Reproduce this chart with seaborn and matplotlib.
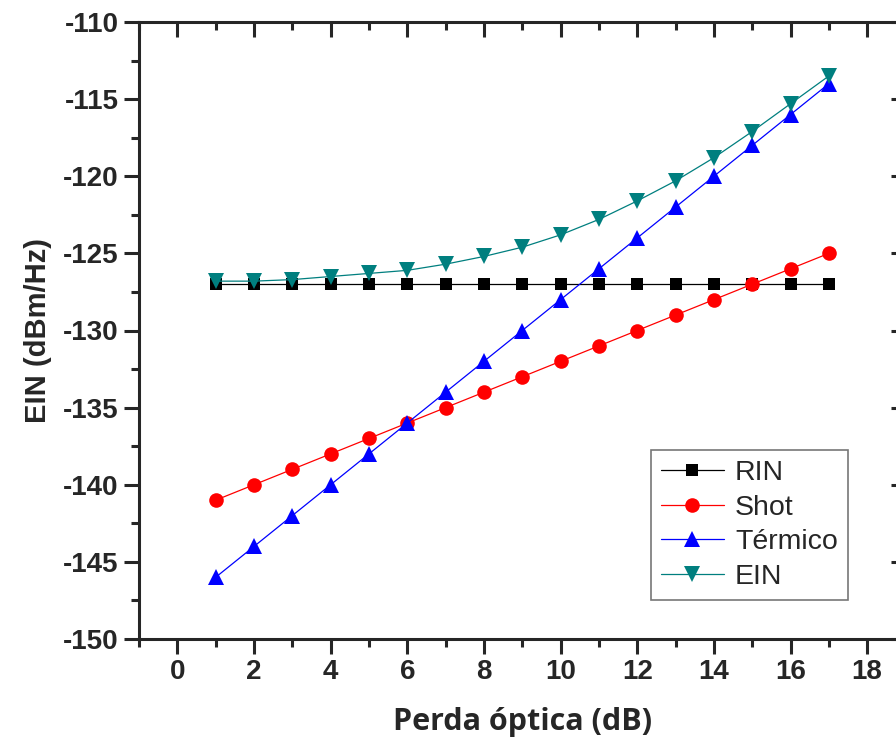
import numpy as np
import pandas as pd
import matplotlib
matplotlib.use("Agg")
import matplotlib.pyplot as plt
from matplotlib.ticker import MultipleLocator
import seaborn as sns

sns.set_theme(style="ticks")
plt.rcParams['font.family'] = ['Liberation Sans', 'DejaVu Sans']
plt.rcParams['axes.unicode_minus'] = False

# data
perda = list(range(1, 18))
rin = [-127] * 17
shot = [-141, -140, -139, -138, -137, -136, -135, -134, -133, -132,
        -131, -130, -129, -128, -127, -126, -125]
termico = [-146, -144, -142, -140, -138, -136, -134, -132, -130, -128,
           -126, -124, -122, -120, -118, -116, -114]
ein = [-126.8, -126.8, -126.7, -126.5, -126.3, -126.1, -125.7, -125.2, -124.6,
       -123.8, -122.8, -121.6, -120.3, -118.8, -117.1, -115.3, -113.5]

series = [
    ("RIN", rin, "black", "s", 9),
    ("Shot", shot, "red", "o", 10.5),
    ("Térmico", termico, "blue", "^", 11.5),
    ("EIN", ein, "#007F7F", "v", 11.5),
]

fig = plt.figure(figsize=(8.96, 7.45), dpi=100)
ax = fig.add_axes([139 / 896, 1 - 639 / 745, 766.5 / 896, 617 / 745])

for name, vals, color, marker, ms in series:
    df = pd.DataFrame({"x": perda, "y": vals})
    sns.lineplot(data=df, x="x", y="y", ax=ax, color=color, marker=marker,
                 markersize=ms, markeredgewidth=0, linewidth=0.9,
                 label=name, zorder=3)

ax.set_xlim(-1, 19)
ax.set_ylim(-150, -110)
ax.xaxis.set_major_locator(MultipleLocator(2))
ax.xaxis.set_minor_locator(MultipleLocator(1))
ax.yaxis.set_major_locator(MultipleLocator(5))
ax.yaxis.set_minor_locator(MultipleLocator(2.5))
ax.set_xticks(range(0, 19, 2))
ax.tick_params(which='major', direction='out', length=11, width=2.2,
               labelsize=20)
ax.tick_params(which='minor', direction='out', length=6, width=2.2)
for lab in ax.get_xticklabels() + ax.get_yticklabels():
    lab.set_fontweight('bold')
for sp in ax.spines.values():
    sp.set_linewidth(2.2)
    sp.set_visible(True)

# mirrored ticks pointing inward on top and right
top = ax.secondary_xaxis('top')
top.xaxis.set_major_locator(MultipleLocator(2))
top.xaxis.set_minor_locator(MultipleLocator(1))
top.tick_params(which='major', direction='in', length=11, width=2.2, labeltop=False)
top.tick_params(which='minor', direction='in', length=6, width=2.2)
right = ax.secondary_yaxis('right')
right.yaxis.set_major_locator(MultipleLocator(5))
right.yaxis.set_minor_locator(MultipleLocator(2.5))
right.tick_params(which='major', direction='in', length=11, width=2.2, labelright=False)
right.tick_params(which='minor', direction='in', length=6, width=2.2)

ax.set_xlabel("Perda óptica (dB)", fontsize=22, fontweight='bold',
              family=['Open Sans', 'DejaVu Sans'], labelpad=16)
ax.set_ylabel("EIN (dBm/Hz)", fontsize=21, fontweight='bold', labelpad=8)

leg = ax.legend(loc='upper left', bbox_to_anchor=((651 - 139) / 766.5, 1 - (450 - 21.7) / 617),
                fontsize=20.5, frameon=True, fancybox=False, handlelength=2.2,
                handletextpad=0.4, borderpad=0.35, labelspacing=0.3,
                borderaxespad=0)
leg.get_frame().set_edgecolor('#555555')
leg.get_frame().set_linewidth(1.2)

fig.savefig("out.png", dpi=100)
